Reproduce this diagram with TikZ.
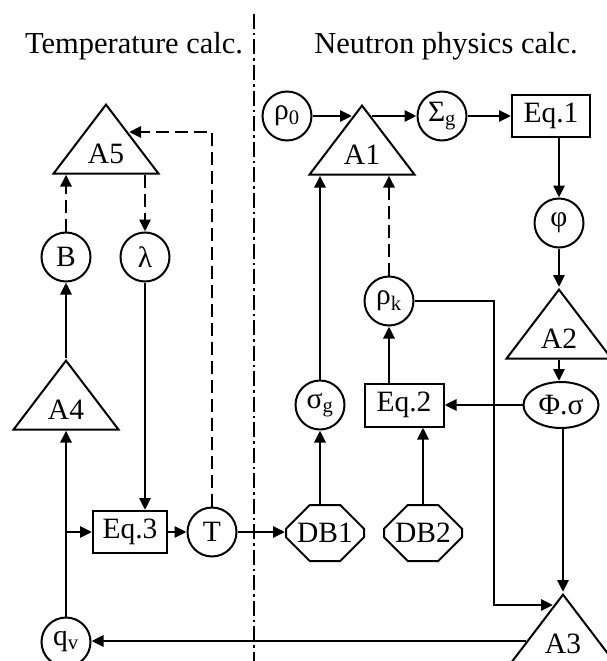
\documentclass[tikz,border=0pt]{standalone}
\usepackage{fontspec}
\setmainfont{Liberation Serif}
\usetikzlibrary{shapes.geometric,shapes.misc,arrows.meta,calc}
\tikzset{nd/.style={draw,line width=2pt,inner sep=0pt,font=\fontsize{29.5}{32}\selectfont},
 tri/.style={nd,isosceles triangle,isosceles triangle stretches,shape border rotate=90,minimum width=105pt,minimum height=69pt,anchor=apex},
 var/.style={nd,circle,minimum size=49pt},
 eqn/.style={nd,rectangle,minimum height=42pt},
 db/.style={nd,chamfered rectangle,chamfered rectangle xsep=14pt,chamfered rectangle ysep=14pt,minimum width=78pt,minimum height=56pt},
 flow/.style={line width=2.9pt,-{Triangle[length=12pt,width=11pt]}},
 feed/.style={flow,dash pattern=on 13pt off 6pt},
 title/.style={anchor=base,font=\fontsize{30.5}{34}\selectfont}}

\begin{document}
\begin{tikzpicture}[x=1pt,y=-1pt]
\useasboundingbox(0,0)rectangle(607,661);
\node[title](tt) at(134,53){Temperature calc.};
\node[title](tn) at(446,53){Neutron physics calc.};
\coordinate(dtop) at(254,14);\coordinate(dbot) at(254,661);
\draw[line width=2.2pt,dash pattern=on 15pt off 4pt on 2.5pt off 4pt](dtop)--(dbot);
\node[tri](a5) at(106,102){A5};
\node[var](b) at(66,257){B};\node[var](lam) at(145,257){λ};
\node[tri](a4) at(66,358){A4};
\node[eqn,minimum width=74pt](eq3) at(130,532){Eq.3};
\node[var](t) at(212,532){T};
\node[var](qv) at(66,642){q\textsubscript{v}};
\node[var](r0) at(287,116){ρ\textsubscript{0}};
\node[tri](a1) at(362,103){A1};
\node[var](sgm) at(442,116){Σ\textsubscript{g}};
\node[eqn,minimum width=78pt](eq1) at(551,116){Eq.1};
\node[var](phi) at(559,223){φ};
\node[tri](a2) at(559,287){A2};
\node[var](rk) at(389,301){ρ\textsubscript{k}};
\node[var](sgg) at(320,405){σ\textsubscript{g}};
\node[eqn,minimum width=79pt,minimum height=43pt](eq2) at(404,405){Eq.2};
\node[nd,ellipse,minimum width=75pt,minimum height=46pt](ps) at(561,405){Φ.σ};
\node[db](db1) at(325,533){DB1};\node[db](db2) at(423,533){DB2};
\node[tri](a3) at(563,592){A3};
\coordinate(a1l) at($(a1.apex)+(-10,13)$);\coordinate(a1r) at($(a1.apex)+(10,13)$);
\coordinate(a5r) at($(a5.apex)+(23,30)$);
\coordinate(a3k) at($(a3.apex)+(-10,13)$);\coordinate(a3q) at($(a3.apex)+(-37,49)$);
\coordinate(rkb) at(494,0);
\draw[flow](r0)--(a1l);\draw[flow](a1r)--(sgm);\draw[flow](sgm)--(eq1);
\draw[flow](eq1.south-|phi)--(phi);\draw[flow](phi)--(a2.apex);
\draw[flow](a2.lower side)--(a2.lower side|-ps.north);
\draw[flow](ps.south-|a3.apex)--(a3.apex);\draw[flow](ps)--(eq2);
\draw[flow](rk.east)--(rk.east-|rkb)|-(a3k);
\draw[flow](eq2.north-|rk)--(rk);\draw[flow](db2.north)--(db2.north|-eq2.south);
\draw[flow](db1.north-|sgg)--(sgg);\draw[flow](sgg)--(sgg|-a1.lower side);
\draw[feed](rk)--(rk|-a1.lower side);
\draw[flow](qv)--(qv|-a4.lower side);\draw[flow](a4.apex)--(a4.apex|-b.south);
\draw[feed](b)--(b|-a5.lower side);\draw[feed](lam|-a5.lower side)--(lam);
\draw[feed](t)|-(a5r);
\draw[flow](lam)--(lam|-eq3.north);\draw[flow](qv|-eq3)--(eq3);
\draw[flow](eq3)--(t);\draw[flow](t)--(t-|db1.west);
\draw[flow](a3q)--(a3q-|qv.east);
\end{tikzpicture}
\end{document}
